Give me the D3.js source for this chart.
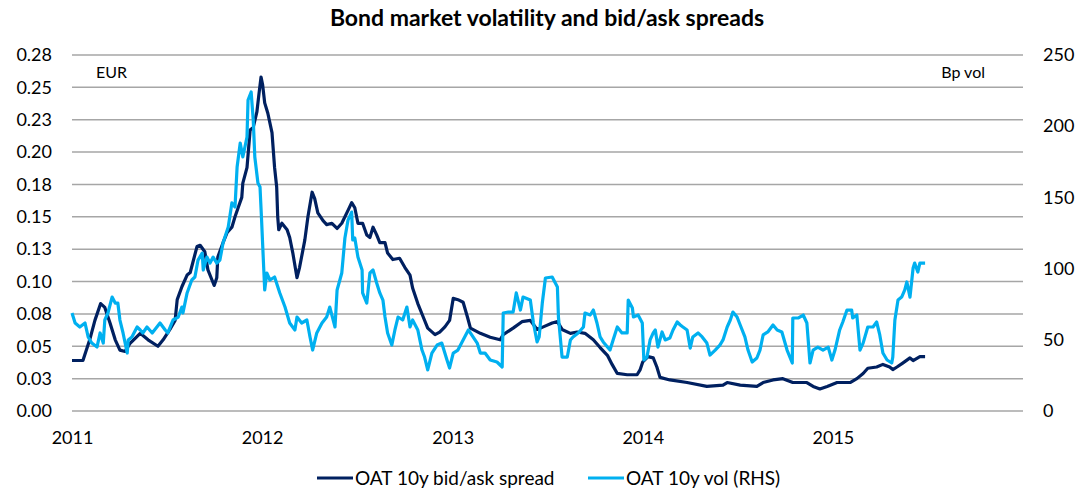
<!DOCTYPE html>
<html><head><meta charset="utf-8">
<script src="https://cdn.jsdelivr.net/npm/d3@7"></script>
<style>
body{margin:0;background:#fff;}
svg{font-family:Lato,"Open Sans",sans-serif;}
</style></head>
<body><svg id="c" width="1086" height="489"></svg>
<script>
const title = "Bond market volatility and bid/ask spreads";
const leftUnit = "EUR", rightUnit = "Bp vol";
const seriesNames = ["OAT 10y bid/ask spread", "OAT 10y vol (RHS)"];
const yearTicks = ["2011-01-01","2012-01-01","2013-01-01","2014-01-01","2015-01-01"];
const leftTicks = [0,0.025,0.05,0.075,0.1,0.125,0.15,0.175,0.2,0.225,0.25,0.275];
const leftTickLabels = ["0.00","0.03","0.05","0.08","0.10","0.13","0.15","0.18","0.20","0.23","0.25","0.28"];
const rightTicks = [0,50,100,150,200,250];

const spreadDates = ["2011-01-01","2011-01-22","2011-02-04","2011-02-14","2011-02-25","2011-03-05","2011-03-15","2011-03-25","2011-04-03","2011-04-13","2011-04-22","2011-05-12","2011-05-27","2011-06-15","2011-06-25","2011-07-08","2011-07-18","2011-07-22","2011-07-31","2011-08-10","2011-08-16","2011-08-29","2011-09-04","2011-09-13","2011-09-19","2011-09-27","2011-10-01","2011-10-06","2011-10-08","2011-10-18","2011-10-26","2011-11-04","2011-11-10","2011-11-16","2011-11-23","2011-11-25","2011-12-03","2011-12-09","2011-12-15","2011-12-22","2011-12-26","2011-12-30","2012-01-02","2012-01-06","2012-01-12","2012-01-20","2012-01-25","2012-01-29","2012-01-31","2012-02-02","2012-02-08","2012-02-18","2012-02-23","2012-02-29","2012-03-08","2012-03-13","2012-03-23","2012-03-29","2012-04-06","2012-04-11","2012-04-17","2012-04-27","2012-05-04","2012-05-14","2012-05-24","2012-06-02","2012-06-14","2012-06-21","2012-06-27","2012-07-03","2012-07-12","2012-07-20","2012-07-26","2012-08-01","2012-08-08","2012-08-14","2012-08-24","2012-08-29","2012-09-08","2012-09-21","2012-10-01","2012-10-11","2012-10-16","2012-10-26","2012-11-05","2012-11-14","2012-11-28","2012-12-07","2012-12-17","2012-12-26","2013-01-02","2013-01-11","2013-01-21","2013-01-29","2013-02-04","2013-02-23","2013-03-14","2013-04-02","2013-04-08","2013-04-27","2013-05-14","2013-05-30","2013-06-12","2013-06-24","2013-07-11","2013-07-21","2013-07-30","2013-08-15","2013-08-28","2013-09-12","2013-09-28","2013-10-11","2013-10-25","2013-11-03","2013-11-13","2013-12-02","2013-12-21","2013-12-27","2014-01-01","2014-01-11","2014-01-21","2014-01-28","2014-02-03","2014-02-22","2014-03-27","2014-05-04","2014-06-04","2014-06-12","2014-07-07","2014-08-08","2014-08-20","2014-09-08","2014-09-27","2014-10-16","2014-11-12","2014-11-24","2014-12-07","2014-12-21","2015-01-09","2015-02-03","2015-02-16","2015-02-28","2015-03-09","2015-03-26","2015-04-07","2015-04-20","2015-04-26","2015-05-04","2015-05-15","2015-05-29","2015-06-04","2015-06-17","2015-06-27"];
const spreadValues = [0.039,0.039,0.055,0.070,0.083,0.080,0.068,0.055,0.047,0.046,0.052,0.060,0.055,0.050,0.055,0.063,0.070,0.086,0.096,0.105,0.107,0.127,0.128,0.123,0.109,0.101,0.097,0.103,0.119,0.130,0.138,0.142,0.150,0.157,0.165,0.176,0.188,0.217,0.219,0.231,0.245,0.258,0.252,0.238,0.230,0.215,0.188,0.173,0.150,0.140,0.145,0.140,0.134,0.122,0.103,0.111,0.132,0.150,0.169,0.164,0.153,0.147,0.144,0.145,0.141,0.145,0.155,0.161,0.157,0.145,0.145,0.136,0.134,0.142,0.136,0.130,0.130,0.122,0.117,0.118,0.111,0.105,0.095,0.083,0.073,0.064,0.059,0.061,0.065,0.070,0.087,0.086,0.084,0.073,0.064,0.060,0.057,0.055,0.059,0.064,0.069,0.070,0.063,0.065,0.068,0.069,0.063,0.060,0.061,0.060,0.055,0.049,0.043,0.036,0.029,0.028,0.028,0.032,0.038,0.042,0.041,0.034,0.026,0.024,0.022,0.019,0.020,0.022,0.020,0.019,0.022,0.024,0.025,0.022,0.022,0.019,0.017,0.019,0.022,0.022,0.025,0.029,0.033,0.034,0.036,0.034,0.032,0.034,0.037,0.041,0.039,0.042,0.042];

const volDates = ["2011-01-01","2011-01-07","2011-01-16","2011-01-26","2011-02-01","2011-02-08","2011-02-18","2011-02-24","2011-03-02","2011-03-05","2011-03-11","2011-03-19","2011-03-25","2011-03-30","2011-04-03","2011-04-09","2011-04-17","2011-04-19","2011-04-26","2011-05-06","2011-05-12","2011-05-17","2011-05-25","2011-06-04","2011-06-13","2011-06-19","2011-06-29","2011-07-04","2011-07-14","2011-07-24","2011-07-31","2011-08-02","2011-08-10","2011-08-19","2011-08-25","2011-08-31","2011-09-08","2011-09-10","2011-09-17","2011-09-23","2011-09-29","2011-10-06","2011-10-12","2011-10-18","2011-10-28","2011-11-04","2011-11-10","2011-11-14","2011-11-20","2011-11-25","2011-12-03","2011-12-05","2011-12-11","2011-12-15","2011-12-18","2011-12-24","2011-12-28","2011-12-31","2012-01-04","2012-01-06","2012-01-10","2012-01-16","2012-01-25","2012-02-04","2012-02-14","2012-02-23","2012-03-04","2012-03-08","2012-03-17","2012-03-27","2012-04-02","2012-04-07","2012-04-15","2012-04-25","2012-05-04","2012-05-10","2012-05-20","2012-05-24","2012-06-02","2012-06-08","2012-06-14","2012-06-21","2012-06-23","2012-06-27","2012-07-03","2012-07-11","2012-07-12","2012-07-20","2012-07-26","2012-08-01","2012-08-08","2012-08-14","2012-08-20","2012-08-24","2012-08-29","2012-09-06","2012-09-12","2012-09-18","2012-09-27","2012-10-05","2012-10-11","2012-10-16","2012-10-26","2012-11-03","2012-11-08","2012-11-14","2012-11-22","2012-12-02","2012-12-11","2012-12-21","2012-12-26","2013-01-02","2013-01-11","2013-01-21","2013-01-31","2013-02-09","2013-02-17","2013-02-23","2013-03-04","2013-03-14","2013-03-27","2013-04-06","2013-04-08","2013-04-18","2013-04-27","2013-05-03","2013-05-11","2013-05-16","2013-05-30","2013-06-05","2013-06-12","2013-06-16","2013-06-22","2013-06-28","2013-07-11","2013-07-21","2013-07-23","2013-07-30","2013-08-09","2013-08-15","2013-08-20","2013-08-30","2013-09-09","2013-09-12","2013-09-22","2013-09-28","2013-10-05","2013-10-11","2013-10-17","2013-10-30","2013-11-05","2013-11-13","2013-11-22","2013-12-02","2013-12-04","2013-12-12","2013-12-14","2013-12-23","2013-12-31","2014-01-03","2014-01-09","2014-01-15","2014-01-21","2014-01-25","2014-01-30","2014-02-07","2014-02-13","2014-02-22","2014-02-28","2014-03-08","2014-03-14","2014-03-19","2014-03-27","2014-04-02","2014-04-07","2014-04-17","2014-04-25","2014-05-04","2014-05-10","2014-05-20","2014-05-29","2014-06-04","2014-06-12","2014-06-18","2014-06-23","2014-07-01","2014-07-07","2014-07-16","2014-07-22","2014-07-30","2014-08-08","2014-08-14","2014-08-20","2014-08-29","2014-09-08","2014-09-16","2014-09-25","2014-10-05","2014-10-15","2014-10-16","2014-10-26","2014-11-05","2014-11-12","2014-11-18","2014-11-24","2014-12-03","2014-12-13","2014-12-23","2014-12-30","2015-01-05","2015-01-14","2015-01-20","2015-01-28","2015-02-06","2015-02-08","2015-02-16","2015-02-22","2015-02-28","2015-03-09","2015-03-19","2015-03-26","2015-04-01","2015-04-07","2015-04-15","2015-04-24","2015-04-26","2015-04-30","2015-05-06","2015-05-13","2015-05-19","2015-05-23","2015-05-29","2015-06-04","2015-06-07","2015-06-13","2015-06-17","2015-06-27"];
const volValues = [68.8,61.8,59.0,61.8,52.0,47.7,44.9,54.8,47.7,63.9,68.8,80.0,75.8,75.8,63.9,54.8,40.7,49.9,52.0,59.0,56.9,54.8,59.0,54.8,59.0,61.8,56.9,54.8,63.9,66.0,73.0,68.8,82.9,92.0,94.1,106.0,110.9,99.0,108.1,103.9,108.1,103.9,106.0,118.0,129.2,146.1,143.2,171.3,188.2,178.4,192.4,218.4,224.0,204.3,178.4,160.1,157.3,134.1,101.1,85.0,96.9,92.0,94.1,82.9,73.0,61.8,56.9,66.0,61.8,63.9,52.0,42.8,54.8,61.8,66.0,73.0,59.0,85.0,96.9,121.5,134.1,139.7,120.1,121.5,108.1,99.0,82.9,75.8,96.9,99.0,89.9,82.9,77.9,66.0,54.8,46.3,56.9,66.0,63.9,73.0,59.0,63.9,56.9,42.8,37.9,28.8,40.7,46.3,47.7,35.8,30.2,40.7,42.8,49.9,56.9,52.0,47.7,40.7,40.7,35.8,34.4,30.9,68.8,69.5,69.5,82.9,70.9,80.0,77.9,61.8,48.5,52.0,75.8,93.4,94.1,87.1,66.0,37.9,37.9,49.9,52.0,54.8,59.0,68.8,67.4,70.9,61.8,52.0,48.5,42.8,49.9,59.0,54.8,54.8,77.9,72.3,66.0,67.4,61.8,35.8,37.9,49.9,54.8,56.9,44.9,55.5,49.9,51.3,56.9,62.5,60.4,59.0,56.9,44.2,52.0,54.8,52.0,47.7,39.3,42.8,46.3,49.9,59.0,63.9,69.5,66.0,60.4,52.0,42.8,34.4,37.2,42.8,53.4,55.5,60.4,56.9,55.5,42.8,33.7,65.3,65.3,67.4,61.8,33.7,42.8,44.9,42.8,44.9,35.8,42.8,56.9,62.5,70.9,70.9,65.3,67.4,42.8,47.7,59.0,59.0,62.5,53.4,40.7,35.8,33.7,37.9,63.9,77.9,80.0,85.0,90.6,80.0,100.4,103.9,97.6,103.9,103.9];

const colors = ["#002060", "#00B0F0"];
const parse = d3.timeParse("%Y-%m-%d");
const svg = d3.select("#c");
const L = 72, R = 1023, T = 55, B = 411;

const x = d3.scaleTime().domain([parse("2011-01-01"), parse("2016-01-01")]).range([L, R]);
const yL = d3.scaleLinear().domain([0, 0.275]).range([B, T]);
const yR = d3.scaleLinear().domain([0, 250]).range([B, T]);

// gridlines
svg.append("g").selectAll("line").data(leftTicks).join("line")
  .attr("x1", L).attr("x2", R)
  .attr("y1", d => yL(d)).attr("y2", d => yL(d))
  .attr("stroke", "#A6A6A6").attr("stroke-width", 1.5);

const fs = 18;
const axL = svg.append("g").attr("transform", `translate(${L},0)`)
  .call(d3.axisLeft(yL).tickValues(leftTicks).tickFormat((d,i) => leftTickLabels[i]).tickSize(0).tickPadding(20));
const axR = svg.append("g").attr("transform", `translate(${R},0)`)
  .call(d3.axisRight(yR).tickValues(rightTicks).tickFormat(d3.format("d")).tickSize(0).tickPadding(20));
const axB = svg.append("g").attr("transform", `translate(0,${B})`)
  .call(d3.axisBottom(x).tickValues(yearTicks.map(parse)).tickFormat(d3.timeFormat("%Y")).tickSize(0).tickPadding(20));
[axL, axR, axB].forEach(a => {
  a.select(".domain").remove();
  a.selectAll("text").attr("font-size", fs).attr("fill", "#000").attr("font-family", "Lato, sans-serif");
});

const spread = spreadDates.map((d,i) => ({date: parse(d), v: spreadValues[i]}));
const vol = volDates.map((d,i) => ({date: parse(d), v: volValues[i]}));

svg.append("path").datum(spread)
  .attr("fill", "none").attr("stroke", colors[0]).attr("stroke-width", 3.2)
  .attr("stroke-linejoin", "round")
  .attr("d", d3.line().x(d => x(d.date)).y(d => yL(d.v)));
svg.append("path").datum(vol)
  .attr("fill", "none").attr("stroke", colors[1]).attr("stroke-width", 3.2)
  .attr("stroke-linejoin", "round")
  .attr("d", d3.line().x(d => x(d.date)).y(d => yR(d.v)));

// title & unit labels
svg.append("text").attr("x", 547).attr("y", 26).attr("text-anchor", "middle")
  .attr("font-size", 23).attr("font-weight", "bold").attr("fill", "#000").text(title);
svg.append("text").attr("x", 96).attr("y", 78).attr("font-size", 16).attr("fill", "#000").text(leftUnit);
svg.append("text").attr("x", 985).attr("y", 78).attr("text-anchor", "end").attr("font-size", 16).attr("fill", "#000").text(rightUnit);

// legend
const leg = [{x1: 317, x2: 353, tx: 355}, {x1: 588, x2: 624, tx: 626}];
leg.forEach((p, i) => {
  svg.append("line").attr("x1", p.x1).attr("x2", p.x2).attr("y1", 478).attr("y2", 478)
    .attr("stroke", colors[i]).attr("stroke-width", 3);
  svg.append("text").attr("x", p.tx).attr("y", 485).attr("font-size", 19).attr("fill", "#000").text(seriesNames[i]);
});
</script></body></html>
